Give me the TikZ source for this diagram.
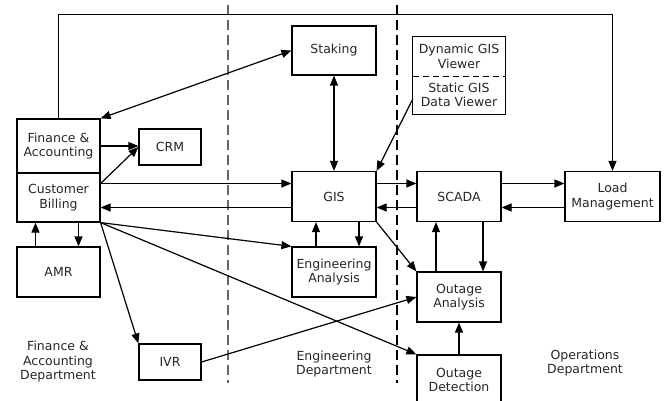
\documentclass[tikz,border=0pt]{standalone}
\usepackage{fontspec}
\setmainfont{DejaVu Sans}
\usetikzlibrary{arrows.meta,calc}
\tikzset{
  blk/.style={draw, line width=1.2pt, inner sep=0pt, align=center, minimum width=84pt, minimum height=50pt},
  lbl/.style={align=center, inner sep=0pt},
  arr/.style={line width=1.2pt, -{Triangle[length=10pt,width=8pt]}},
  darr/.style={line width=1.2pt, {Triangle[length=10pt,width=8pt]}-{Triangle[length=10pt,width=8pt]}},
  divide/.style={line width=1.2pt, dash pattern=on 10pt off 5pt},
}

\begin{document}
\begin{tikzpicture}[x=1pt, y=-1pt, font=\fontsize{12.5}{14.5}\selectfont, text=black!85]
			%%%%% START %%%%%
			\useasboundingbox (0,0) rectangle (666,401);
			
			% department borders
			\draw[divide, black!60] (228,5) -- (228,383);
			\draw[divide] (397,5) -- (397,383);
			
			% finance side
			\node[blk, minimum width=83pt, minimum height=54pt] (fin) at (58.5,146) {Finance \&\\Accounting};
			\node[blk, minimum width=83pt, minimum height=49pt] (bill) at (58.5,197.5) {Customer\\Billing};
			\node[blk, minimum width=62pt, minimum height=36pt] (crm) at (170,147) {CRM};
			\node[blk, minimum width=83pt] (amr) at (58.5,272) {AMR};
			\node[blk, minimum width=62pt, minimum height=36pt] (ivr) at (170,362) {IVR};
			
			% engineering side
			\node[blk, minimum height=49pt] (stak) at (334,50.5) {Staking};
			\node[blk] (gis) at (334,196.5) {GIS};
			\node[blk] (eng) at (334,272) {Engineering\\Analysis};
			
			% operations side
			\node[lbl, minimum width=92pt, minimum height=39pt] (dyn) at (459,56.5) {Dynamic GIS\\Viewer};
			\node[lbl, minimum width=92pt, minimum height=38pt] (stat) at (459,95) {Static GIS\\Data Viewer};
			\draw[line width=1.2pt] (dyn.north west) rectangle (stat.south east);
			\draw[line width=1.2pt, dash pattern=on 6pt off 4pt] (dyn.south west) -- (dyn.south east);
			\node[blk] (scada) at (459,196.5) {SCADA};
			\node[blk, minimum width=95pt] (load) at (612.5,196.5) {Load\\Management};
			\node[blk] (oana) at (459,297) {Outage\\Analysis};
			\node[blk] (odet) at (459,380) {Outage\\Detection};
			
			\node[lbl] (finlbl) at (58,362) {Finance \&\\Accounting\\Department};
			\node[lbl] (englbl) at (334,364) {Engineering\\Department};
			\node[lbl] (opslbl) at (585,363) {Operations\\Department};
			
			\coordinate (g1) at ([yshift=13pt]gis.west);
			\coordinate (g2) at ([yshift=-11pt]gis.west);
			
			% connectors
			\draw[arr] (fin.north) -- ++(0,-104) -| (load.north);
			\draw[darr] (fin.north east) -- (stak.west);
			\draw[arr] (fin.east) -- (fin.east -| crm.west);
			\draw[arr] (g1 -| bill.east) -- (crm.west);
			\draw[arr] (g1 -| bill.east) -- (g1);
			\draw[arr] (g2) -- (g2 -| bill.east);
			\draw[arr] (bill.south east) -- (eng.north west);
			\draw[arr] (bill.south east) -- (odet.north west);
			\draw[arr] (bill.south east) -- (ivr.north west);
			\draw[arr] (ivr.east) -- (oana.west);
			\draw[arr] ([xshift=-23pt]amr.north) -- ([xshift=-23pt]bill.south);
			\draw[arr] ([xshift=20pt]bill.south) -- ([xshift=20pt]amr.north);
			
			\draw[darr] (stak.south) -- (gis.north);
			\draw[arr] ([yshift=-4pt]stat.west) -- (gis.north east);
			\draw[arr] ([yshift=13pt]gis.east) -- ([yshift=13pt]scada.west);
			\draw[arr] ([yshift=-11pt]scada.west) -- ([yshift=-11pt]gis.east);
			\draw[arr] ([yshift=13pt]scada.east) -- ([yshift=13pt]load.west);
			\draw[arr] ([yshift=-11pt]load.west) -- ([yshift=-11pt]scada.east);
			\draw[arr] ([xshift=25pt]gis.south) -- ([xshift=25pt]eng.north);
			\draw[arr] ([xshift=-18pt]eng.north) -- ([xshift=-18pt]gis.south);
			\draw[arr] (gis.south east) -- (oana.north west);
			\draw[arr] ([xshift=-23pt]oana.north) -- ([xshift=-23pt]scada.south);
			\draw[arr] ([xshift=24pt]scada.south) -- ([xshift=24pt]oana.north);
			\draw[arr] (odet.north) -- (oana.south);
			
			%%%%% END %%%%%
\end{tikzpicture}
\end{document}
